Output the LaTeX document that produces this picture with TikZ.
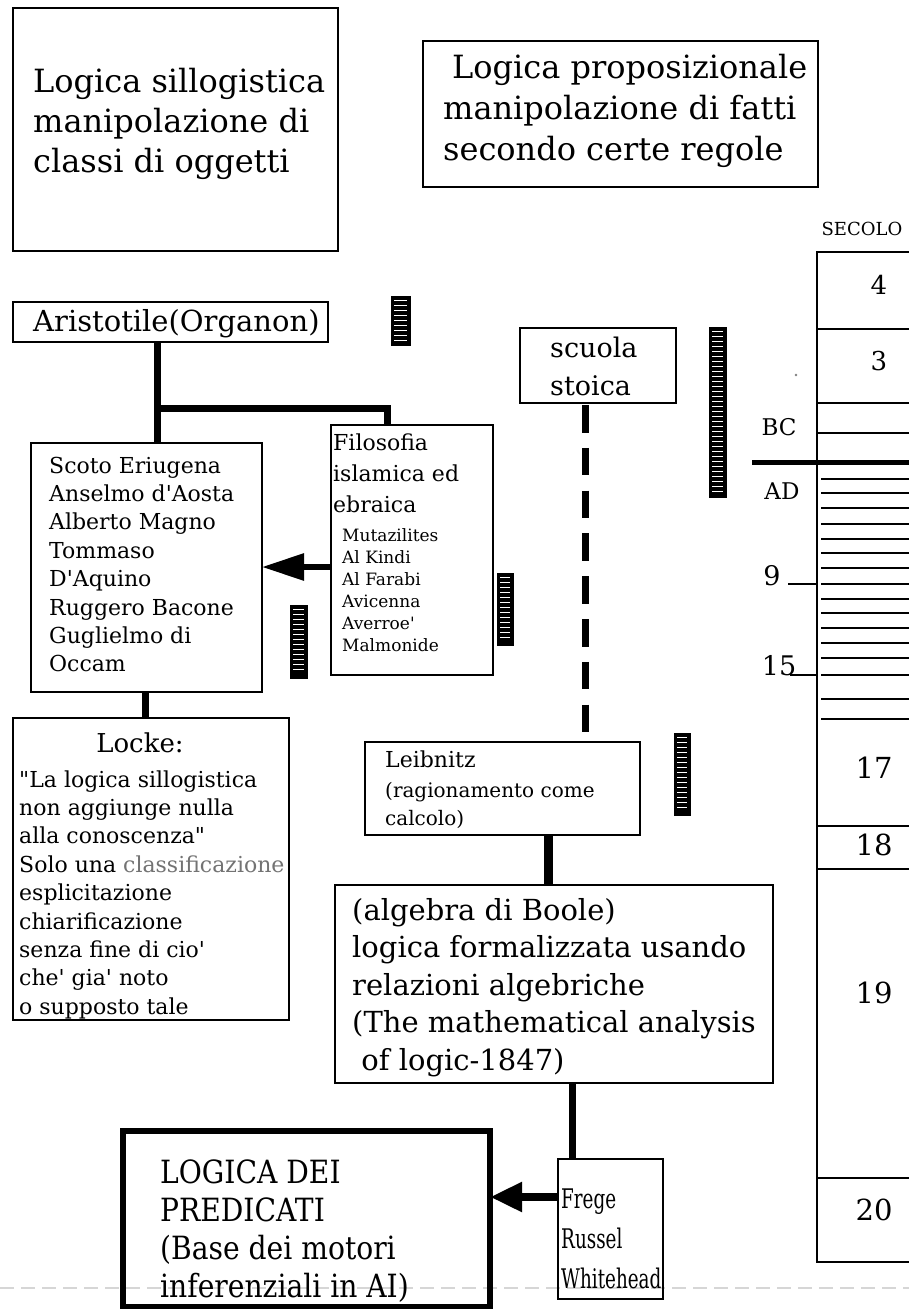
\documentclass[tikz,border=0pt]{standalone}
\usepackage{fontspec}
\setmainfont{DejaVu Serif}[Ligatures=TeXOff]
\usetikzlibrary{arrows.meta}

% vertical hatched marker: name, x1, y1, x2, y2
\newcommand\hatchbar[5]{%
  \node[hatchbox, minimum width={#4-#2}, minimum height={#5-#3}] (#1) at (#2,#3) {};
  \pgfmathtruncatemacro\hbn{(#5-#3-4)/5}
  \foreach \k in {1,...,\hbn}{\draw[stripe] ({#2+3},{#3+2+(\k-0.5)*5}) -- ({#4-3},{#3+2+(\k-0.5)*5});}
}
\newcommand\narrow[2]{\scalebox{#1}[1]{#2}}

\begin{document}
\begin{tikzpicture}[x=1pt,y=-1pt,
  box/.style={draw=black, line width=2.3pt, inner sep=0pt, outer sep=0pt, anchor=north west},
  heavybox/.style={box, line width=6pt},
  conn/.style={line width=7pt, line join=miter},
  rule/.style={line width=2pt},
  hatchbox/.style={fill=black, draw=black, line width=1pt, inner sep=0pt, outer sep=0pt, anchor=north west},
  stripe/.style={white, line width=1.6pt},
  txt/.style={inner sep=0pt, anchor=base west},
  title/.style={txt, font=\fontsize{32}{32}\selectfont},
  big/.style={txt, font=\fontsize{29}{29}\selectfont},
  mid/.style={txt, font=\fontsize{22}{22}\selectfont},
  midsm/.style={txt, font=\fontsize{20}{20}\selectfont},
  small/.style={txt, font=\fontsize{17}{17}\selectfont},
  head/.style={txt, font=\fontsize{27}{27}\selectfont},
  numsm/.style={inner sep=0pt, font=\fontsize{26}{26}\selectfont},
  num/.style={inner sep=0pt, font=\fontsize{29}{29}\selectfont},
  era/.style={inner sep=0pt, font=\fontsize{23}{23}\selectfont},
  tick/.style={inner sep=0pt, anchor=base, font=\fontsize{27}{27}\selectfont},
]
\useasboundingbox (0,0) rectangle (909,1309);
\clip (0,0) rectangle (909,1309);
\fill[white] (0,0) rectangle (909,1309);

% faint fold line across the lower page
\draw[black!16, line width=1.5pt, dash pattern=on 14pt off 7pt] (0,1288) -- (909,1288);

% ---- headings ----
\node[box, minimum width=325, minimum height=243] (b1) at (13,8) {};
\foreach \t [count=\i] in {Logica sillogistica, manipolazione di, classi di oggetti}
  \node[title] (b1t\i) at (33,{92+40*(\i-1)}) {\t};

\node[box, minimum width=395, minimum height=146] (b2) at (423,41) {};
\node[title] (b2t1) at (452,78) {Logica proposizionale};
\node[title] (b2t2) at (443,119) {manipolazione di fatti};
\node[title] (b2t3) at (443,160) {secondo certe regole};

% ---- century scale ----
\node[inner sep=0pt, font=\fontsize{18}{18}\selectfont] (secolo) at (862,229) {SECOLO};
\node[box, minimum width=110, minimum height=1010] (col) at (817,252) {};
\foreach \yy in {329,403,433,826,869,1178}
  \draw[rule] (817,\yy) -- (909,\yy);
\foreach \yy in {479,493,508,524,539,553,568,584,599,613,628,643,658,675,699,719}
  \draw[rule] (821,\yy) -- (909,\yy);
\draw[line width=5pt] (752,462) -- (909,462);
\draw[rule] (788,584) -- (817,584);
\draw[rule] (790,675) -- (817,675);
\fill[black!50] (796,375) circle (1.3pt);
\node[numsm] (c4) at (879,285) {4};
\node[numsm] (c3) at (879,361) {3};
\node[era] (bc) at (779,427) {BC};
\node[era] (ad) at (782,491) {AD};
\node[tick] (c9) at (772,585) {9};
\node[tick] (c15) at (779,675) {15};
\node[num] (c17) at (874,768) {17};
\node[num] (c18) at (874,845) {18};
\node[num] (c19) at (874,993) {19};
\node[num] (c20) at (874,1210) {20};

% ---- markers ----
\hatchbar{hA}{391}{296}{410}{345}
\hatchbar{hB}{709}{327}{726}{497}
\hatchbar{hC}{497}{573}{513}{645}
\hatchbar{hD}{290}{605}{307}{678}
\hatchbar{hE}{674}{733}{690}{815}

% ---- syllogistic branch ----
\node[box, minimum width=315, minimum height=40] (aris) at (13,302) {};
\node[big] (arist) at (33,331) {Aristotile(Organon)};

\node[box, minimum width=231, minimum height=249] (scoto) at (31,443) {};
\foreach \t [count=\i] in {Scoto Eriugena, Anselmo d'Aosta, Alberto Magno, Tommaso, D'Aquino, Ruggero Bacone, Guglielmo di, Occam}
  \node[mid] (sc\i) at (49,{473+28.4*(\i-1)}) {\t};

\node[box, minimum width=162, minimum height=250] (filo) at (331,425) {};
\foreach \t [count=\i] in {Filosofia, islamica ed, ebraica}
  \node[mid] (fi\i) at (333,{450+31*(\i-1)}) {\t};
\foreach \t [count=\i] in {Mutazilites, Al Kindi, Al Farabi, Avicenna, Averroe', Malmonide}
  \node[small] (fl\i) at (342,{541+22*(\i-1)}) {\t};

\node[box, minimum width=276, minimum height=302] (locke) at (13,718) {};
\node[inner sep=0pt, anchor=base, font=\fontsize{26}{26}\selectfont] (lockeh) at (140,752) {Locke:};
\foreach \t [count=\i] in {"La logica sillogistica, non aggiunge nulla, alla conoscenza", {Solo una \textcolor{black!55}{classificazione}}, esplicitazione, chiarificazione, senza fine di cio', che' gia' noto, o supposto tale}
  \node[mid] (lk\i) at (19,{787+28.4*(\i-1)}) {\t};

% ---- propositional branch ----
\node[box, minimum width=156, minimum height=75] (scuola) at (520,328) {};
\node[head] (sst1) at (550,357) {scuola};
\node[head] (sst2) at (550,395) {stoica};

\node[box, minimum width=275, minimum height=93] (leib) at (365,742) {};
\node[mid] (le1) at (385,767) {Leibnitz};
\node[midsm] (le2) at (385,797) {(ragionamento come};
\node[midsm] (le3) at (385,825) {calcolo)};

\node[box, minimum width=438, minimum height=198] (boole) at (335,885) {};
\foreach \t [count=\i] in {{(algebra di Boole)}, logica formalizzata usando, relazioni algebriche, {(The mathematical analysis}, {\ of logic-1847)}}
  \node[big] (bo\i) at (352,{920+37.5*(\i-1)}) {\t};

\node[box, minimum width=105, minimum height=140] (frege) at (558,1159) {};
\foreach \t [count=\i] in {Frege, Russel, Whitehead}
  \node[txt, font=\fontsize{27}{27}\selectfont] (fr\i) at (561,{1208+40*(\i-1)}) {\narrow{0.68}{\t}};

\node[heavybox, minimum width=367, minimum height=176] (pred) at (123,1131) {};
\foreach \t [count=\i] in {LOGICA DEI, PREDICATI, {(Base dei motori}, {inferenziali in AI)}}
  \node[txt, font=\fontsize{32}{32}\selectfont] (pr\i) at (160,{1183+38*(\i-1)}) {\narrow{0.88}{\t}};

% ---- connectors ----
\coordinate (j1) at (157,0);
\draw[conn] (aris.south -| j1) -- (scoto.north -| j1);
\coordinate (j2) at (387,408);
\draw[conn] (j2 -| j1) -- (j2) -- (filo.north -| j2);
\coordinate (a1) at (0,567);
\draw[conn, line width=6pt, -{Triangle[length=42pt,width=26pt]}] (filo.west |- a1) -- (scoto.east |- a1);
\coordinate (j5) at (145,0);
\draw[conn] (scoto.south -| j5) -- (locke.north -| j5);
\coordinate (d1) at (585,0);
\draw[conn, shorten <=2pt, dash pattern=on 27.5pt off 15.3pt] (scuola.south -| d1) -- (leib.north -| d1);
\coordinate (j3) at (548,0);
\draw[conn, line width=9pt] (leib.south -| j3) -- (boole.north -| j3);
\coordinate (j4) at (572,0);
\draw[conn] (boole.south -| j4) -- (frege.north -| j4);
\coordinate (a2) at (0,1197);
\draw[conn, line width=8pt, -{Triangle[length=32pt,width=28pt]}] (frege.west |- a2) -- (pred.east |- a2);
\end{tikzpicture}
\end{document}
